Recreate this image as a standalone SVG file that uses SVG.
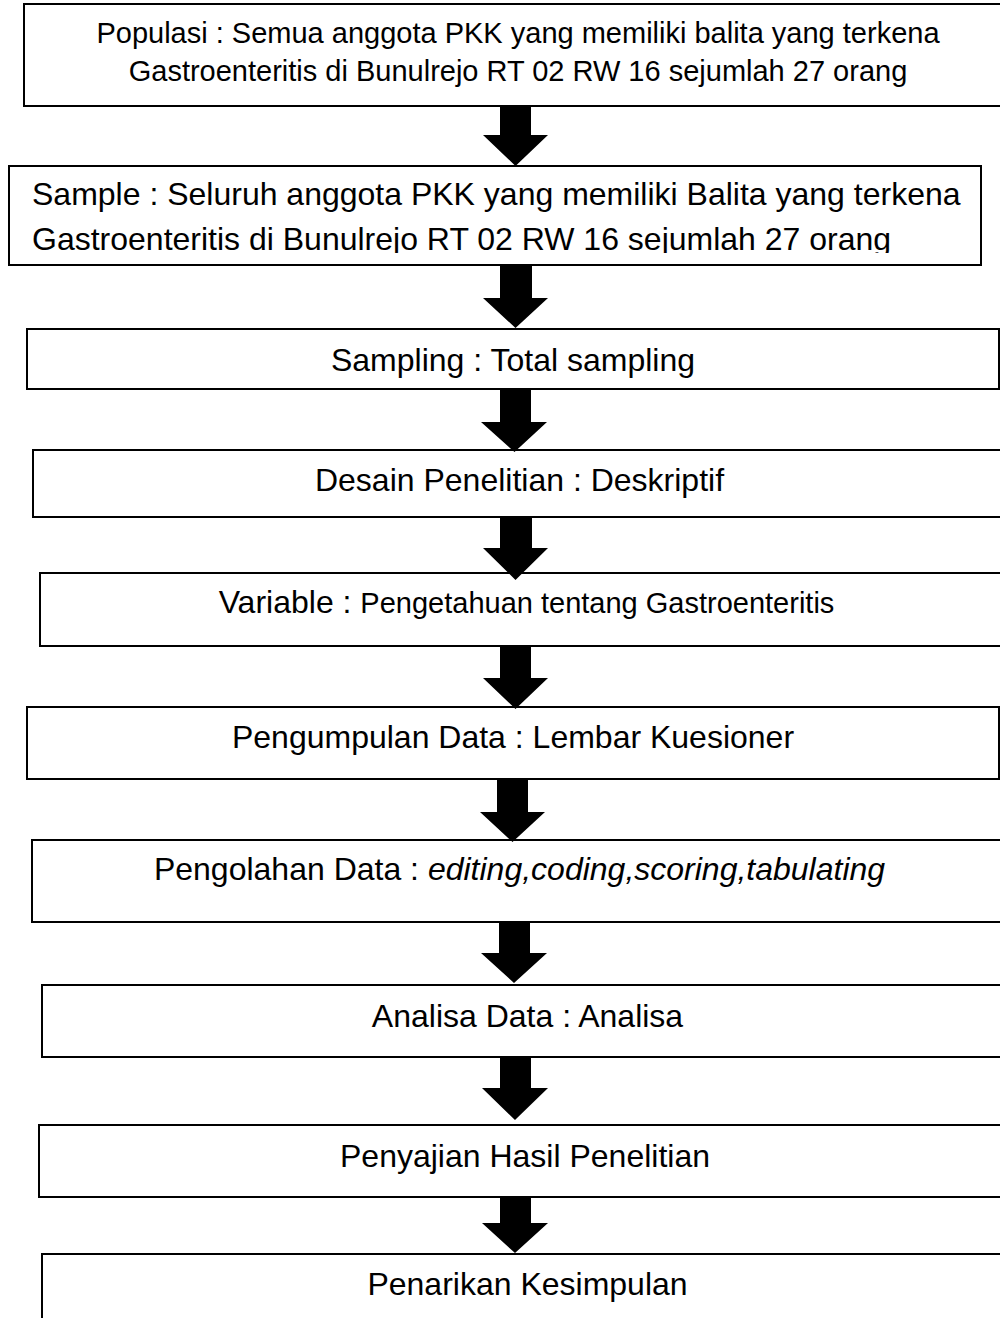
<svg xmlns="http://www.w3.org/2000/svg" width="1000" height="1318" viewBox="0 0 1000 1318">
<style>
.box{fill:#fff;stroke:#000;stroke-width:2}
.t{font-family:"Liberation Sans",Arial,sans-serif;font-size:32px;fill:#000}
.c{text-anchor:middle}
.arr{fill:#000;stroke:none}
</style>
<defs>
<clipPath id="clip2"><rect x="0" y="160" width="1000" height="93"/></clipPath>
</defs>
<rect width="1000" height="1318" fill="#fff"/>
<g id="n1">
<rect class="box" x="24" y="4" width="990" height="102"/>
<text class="t c" x="518" y="43" style="font-size:29px">Populasi : Semua anggota PKK yang memiliki balita yang terkena</text>
<text class="t c" x="518" y="81" style="font-size:29px">Gastroenteritis di Bunulrejo RT 02 RW 16 sejumlah 27 orang</text>
</g>
<g id="n2">
<rect class="box" x="9" y="166" width="972" height="99"/>
<g clip-path="url(#clip2)">
<text class="t" x="32" y="205">Sample : Seluruh anggota PKK yang memiliki Balita yang terkena</text>
<text class="t" x="32" y="250">Gastroenteritis di Bunulrejo RT 02 RW 16 sejumlah 27 orang</text>
</g>
</g>
<g id="n3">
<rect class="box" x="27" y="329" width="972" height="60"/>
<text class="t c" x="513" y="371">Sampling : Total sampling</text>
</g>
<g id="n4">
<rect class="box" x="33" y="450" width="973" height="67"/>
<text class="t c" x="519.5" y="491">Desain Penelitian : Deskriptif</text>
</g>
<g id="n5">
<rect class="box" x="40" y="573" width="973" height="73"/>
<text class="t c" x="526.5" y="613">Variable : <tspan style="font-size:29px">Pengetahuan tentang Gastroenteritis</tspan></text>
</g>
<g id="n6">
<rect class="box" x="27" y="707" width="972" height="72"/>
<text class="t c" x="513" y="748">Pengumpulan Data : Lembar Kuesioner</text>
</g>
<g id="n7">
<rect class="box" x="32" y="840" width="975" height="82"/>
<text class="t c" x="519.5" y="880">Pengolahan Data : <tspan font-style="italic">editing,coding,scoring,tabulating</tspan></text>
</g>
<g id="n8">
<rect class="box" x="42" y="985" width="971" height="72"/>
<text class="t c" x="527.5" y="1027">Analisa Data : Analisa</text>
</g>
<g id="n9">
<rect class="box" x="39" y="1125" width="972" height="72"/>
<text class="t c" x="525" y="1167">Penyajian Hasil Penelitian</text>
</g>
<g id="n10">
<rect class="box" x="42" y="1254" width="971" height="80"/>
<text class="t c" x="527.5" y="1295">Penarikan Kesimpulan</text>
</g>
<g id="connectors">
<polygon class="arr" points="500,105 531,105 531,135 548,135 515.5,166 483,135 500,135"/>
<polygon class="arr" points="500,264 532,264 532,298 548,298 515.5,328 483,298 500,298"/>
<polygon class="arr" points="500,388 531,388 531,422 547,422 514.5,452 481,422 500,422"/>
<polygon class="arr" points="500,516 532,516 532,548 548,548 515.5,580 483,548 500,548"/>
<polygon class="arr" points="500,645 531,645 531,678 548,678 515.5,709 483,678 500,678"/>
<polygon class="arr" points="497,778 528,778 528,812 545,812 512.5,842 480,812 497,812"/>
<polygon class="arr" points="499,921 530,921 530,953 547,953 514,983 481,953 499,953"/>
<polygon class="arr" points="500,1056 531,1056 531,1088 548,1088 515,1120 482,1088 500,1088"/>
<polygon class="arr" points="500,1196 531,1196 531,1223 548,1223 515,1253 482,1223 500,1223"/>
</g>
</svg>
